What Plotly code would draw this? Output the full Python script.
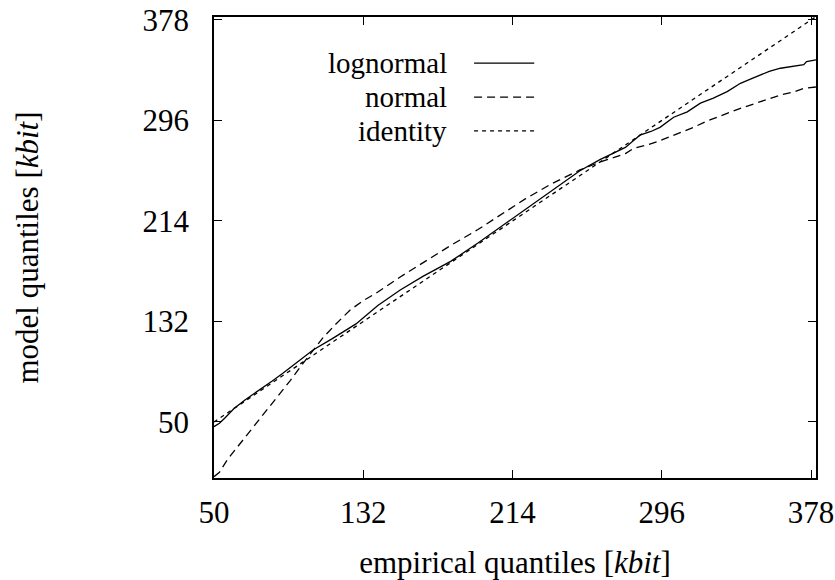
import plotly.graph_objects as go

# ---- data ----
ticks = [50, 132, 214, 296, 378]

lognormal_x = [50, 53, 56, 61, 67, 75, 82, 88, 96, 104.4, 115, 128, 140, 152.3, 165, 180,
               195, 207.3, 217, 227.4, 240, 251, 262, 270, 276, 280, 284, 290, 295, 302.5,
               310, 317.2, 324, 331.9, 339.2, 345, 350.2, 355, 361.2, 370, 374, 375.5, 380.7]
lognormal_y = [46.2, 49, 53.3, 61, 68, 76, 83.5, 90, 99, 108.7, 118, 130, 145, 157.7, 169, 181,
               196, 209, 219, 229.7, 243, 255, 264, 270, 274, 279, 284, 287, 290.4, 298.6,
               303, 310.1, 314, 319.5, 326.3, 330, 333.1, 336, 338.6, 340.5, 341.5, 344, 345.4]

normal_x = [50, 53, 57.7, 62, 67, 71.4, 78, 85.2, 92, 98, 104.4, 110, 117, 124.8, 132, 140,
            152.3, 165, 180, 195, 207.3, 221, 235, 251, 262, 270, 276, 280.6, 287.9, 294,
            300.7, 307, 313.5, 320, 328.2, 339.2, 350.2, 361.2, 368, 374, 376, 380.7]
normal_y = [5.4, 9, 20, 28, 38, 46, 58, 71, 84, 96, 108.7, 119, 130, 141.4, 149, 156,
            168.3, 180, 194, 207, 218.9, 232, 244, 255.6, 262, 266, 269, 273.3, 276, 279,
            282.8, 287, 290.4, 295, 299.6, 305.9, 311.3, 316.8, 319, 322.2, 322.5, 323.3]

identity_x = [50, 380.7]
identity_y = [50, 380.7]

series_names = ["lognormal", "normal", "identity"]

FONT = "Liberation Serif, Times New Roman, DejaVu Serif, serif"
FS = 31
LEG_FS = 29

fig = go.Figure()
fig.add_trace(go.Scatter(x=lognormal_x, y=lognormal_y, mode="lines", name=series_names[0],
                         line=dict(color="black", width=1.3), showlegend=False))
fig.add_trace(go.Scatter(x=normal_x, y=normal_y, mode="lines", name=series_names[1],
                         line=dict(color="black", width=1.3, dash="8px,5px"), showlegend=False))
fig.add_trace(go.Scatter(x=identity_x, y=identity_y, mode="lines", name=series_names[2],
                         line=dict(color="black", width=1.3, dash="4px,4px"), showlegend=False))

# gnuplot-style legend: right-aligned text followed by line sample
dashes = ["solid", "8px,5px", "4px,4px"]
rows = [0.900, 0.826, 0.753]
for name, d, yy in zip(series_names, dashes, rows):
    fig.add_annotation(x=0.390, y=yy, xref="paper", yref="paper", text=name,
                       showarrow=False, xanchor="right", yanchor="middle",
                       font=dict(family=FONT, size=LEG_FS, color="black"))
    fig.add_shape(type="line", xref="paper", yref="paper", x0=0.432, x1=0.532, y0=yy, y1=yy,
                  line=dict(color="black", width=1.3, dash=d))

axis_common = dict(
    showgrid=False, zeroline=False, showline=True, mirror="allticks", linecolor="black",
    linewidth=1.5, ticks="inside", ticklen=8, tickwidth=1, tickcolor="black",
    tickvals=ticks, ticktext=[str(t) for t in ticks], automargin=False,
    tickfont=dict(family=FONT, size=FS, color="black"),
)
fig.update_xaxes(range=[50, 380.7], ticklabelstandoff=6,
                 title=dict(text="empirical quantiles [<i>kbit</i>]", standoff=32,
                            font=dict(family=FONT, size=FS, color="black")),
                 **axis_common)
fig.update_yaxes(range=[4.3, 380.4], ticklabelstandoff=17,
                 title=dict(text="model quantiles [<i>kbit</i>]", standoff=95,
                            font=dict(family=FONT, size=FS, color="black")),
                 **axis_common)

fig.update_layout(width=835, height=580, margin=dict(l=214, r=19, t=17, b=102),
                  plot_bgcolor="white", paper_bgcolor="white", showlegend=False,
                  font=dict(family=FONT, size=FS, color="black"))

fig.write_html("out.html")
